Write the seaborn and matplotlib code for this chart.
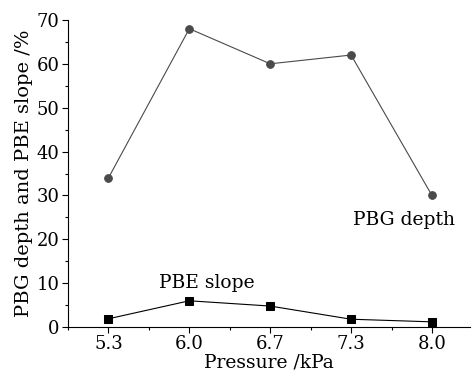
import numpy as np
import pandas as pd
import seaborn as sns
import matplotlib.pyplot as plt
from matplotlib.ticker import MultipleLocator

pressure = ["5.3", "6.0", "6.7", "7.3", "8.0"]
pbg_depth = [34, 68, 60, 62, 30]
pbe_slope = [1.9, 6.0, 4.8, 1.8, 1.2]

sns.set_style("ticks")
plt.rcParams['font.family'] = ['DejaVu Serif']
plt.rcParams['text.color'] = 'black'
plt.rcParams['axes.labelcolor'] = 'black'
plt.rcParams['xtick.color'] = 'black'
plt.rcParams['ytick.color'] = 'black'
plt.rcParams['axes.edgecolor'] = 'black'

df = pd.DataFrame({"pos": np.arange(len(pressure)),
                   "PBG depth": pbg_depth, "PBE slope": pbe_slope})

fig = plt.figure(figsize=(4.74, 3.76), dpi=100)
ax = fig.add_axes([0.1435, 0.130, 0.848, 0.817])

sns.lineplot(data=df, x="pos", y="PBG depth", ax=ax, color="#4a4a4a", lw=0.8,
             marker="o", markersize=5.5, markeredgecolor="#4a4a4a")
sns.lineplot(data=df, x="pos", y="PBE slope", ax=ax, color="black", lw=0.8,
             marker="s", markersize=5.5, markeredgecolor="black")

ax.set_xlim(-0.5, 4.47)
ax.set_ylim(0, 70)
ax.set_xticks(df["pos"])
ax.set_xticklabels(pressure)
ax.xaxis.set_minor_locator(MultipleLocator(0.5))
ax.yaxis.set_major_locator(MultipleLocator(10))
ax.yaxis.set_minor_locator(MultipleLocator(5))
ax.tick_params(axis="both", which="major", length=4, width=0.8, labelsize=13, pad=2)
ax.tick_params(axis="both", which="minor", length=2, width=0.8)
for s in ["left", "bottom"]:
    ax.spines[s].set_linewidth(0.8)
sns.despine(ax=ax)

ax.set_xlabel("Pressure /kPa", fontsize=13.5, labelpad=0)
ax.set_ylabel("PBG depth and PBE slope /%", fontsize=14, labelpad=3)

ax.text(3.02, 24.5, "PBG depth", fontsize=13.5, va="center")
ax.text(0.63, 10.0, "PBE slope", fontsize=13.5, va="center")

fig.savefig("out.png", dpi=100)
